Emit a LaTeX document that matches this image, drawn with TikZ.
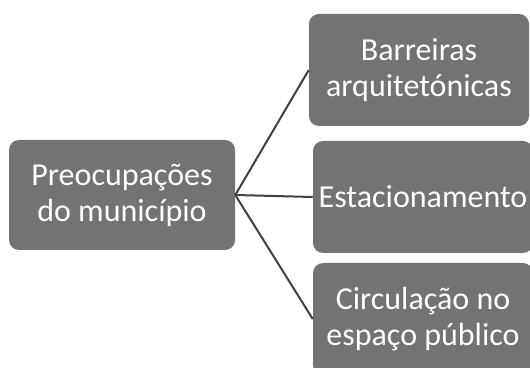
\documentclass[tikz,border=0pt]{standalone}
\usepackage{fontspec}
\setmainfont{Carlito}
\usepackage{xcolor}
\usepackage{tikz}
\definecolor{boxgray}{RGB}{115,115,115}
\definecolor{linkgray}{RGB}{64,64,64}
\tikzset{
  topic/.style={rectangle,rounded corners=7.5pt,fill=boxgray,text=white,align=center,
                font=\fontsize{24}{27}\selectfont,inner sep=2pt},
  mainbox/.style={topic,minimum width=169.5pt,minimum height=82.5pt},
  subbox/.style={topic,minimum width=165pt,minimum height=84pt},
  linkln/.style={linkgray,line width=1.5pt},
}

\begin{document}
\begin{tikzpicture}[x=0.75pt,y=0.75pt]
        \useasboundingbox (0,0) rectangle (530,367);
        % tema central
        \node[mainbox] (mun) at (122,172) {Preocupações\\do município};
        % subtemas (coluna da direita)
        \node[subbox] (bar)  at (419,297) {Barreiras\\arquitetónicas};
        \node[subbox] (est)  at (423,170) {Estacionamento};
        \node[subbox] (circ) at (423,48)  {Circulação no\\espaço público};
        % ligações
        \draw[linkln] (mun.east) -- (bar.west);
        \draw[linkln] (mun.east) -- (est.west);
        \draw[linkln] (mun.east) -- (circ.west);
      \end{tikzpicture}
\end{document}
